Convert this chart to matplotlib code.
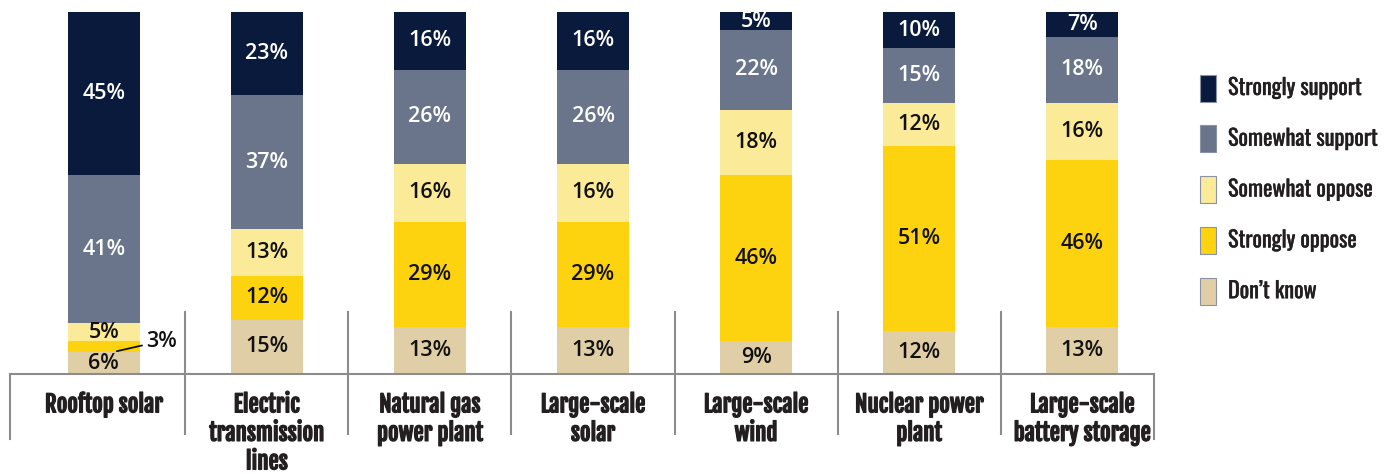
import matplotlib
matplotlib.use("Agg")
import matplotlib.pyplot as plt
from matplotlib.patches import Rectangle
import matplotlib.patheffects as pe
import numpy as np

# categories and series (bottom to top in the stack)
categories = ["Rooftop solar", "Electric\ntransmission\nlines", "Natural gas\npower plant",
              "Large-scale\nsolar", "Large-scale\nwind", "Nuclear power\nplant",
              "Large-scale\nbattery storage"]
dont_know = [6, 15, 13, 13, 9, 12, 13]
strongly_oppose = [3, 12, 29, 29, 46, 51, 46]
somewhat_oppose = [5, 13, 16, 16, 18, 12, 16]
somewhat_support = [41, 37, 26, 26, 22, 15, 18]
strongly_support = [45, 23, 16, 16, 5, 10, 7]

series = [
    ("Don\u2019t know", dont_know, "#e0cea6", "#111111"),
    ("Strongly oppose", strongly_oppose, "#fdd20e", "#111111"),
    ("Somewhat oppose", somewhat_oppose, "#fbeb98", "#111111"),
    ("Somewhat support", somewhat_support, "#6a758b", "white"),
    ("Strongly support", strongly_support, "#0a1a3d", "white"),
]

cat_font = ["Fjalla One", "DejaVu Sans"]
leg_font = ["Oswald", "DejaVu Sans"]
num_font = ["Open Sans", "DejaVu Sans"]
grey = "#8c8c8c"
ink = "#231f20"

fig = plt.figure(figsize=(13.94, 4.74), dpi=100)
ax = fig.add_axes([10 / 1394, 100 / 474, 1144 / 1394, 362 / 474])

x = np.arange(len(categories))
bottom = np.zeros(len(categories))
for name, vals, color, tcolor in series:
    vals = np.array(vals, dtype=float)
    ax.bar(x, vals, width=0.44, bottom=bottom, color=color, label=name)
    for xi, b, v in zip(x, bottom, vals):
        if v >= 5:
            ax.text(xi, b + v / 2, f"{int(v)}%", ha="center", va="center",
                    fontsize=15.5, fontweight="semibold", color=tcolor, family=num_font)
    bottom += vals

# the 3% slice on rooftop solar is too thin, label it outside
small_y = dont_know[0] + strongly_oppose[0] / 2
ax.annotate(f"{strongly_oppose[0]}%", xy=(x[0] + 0.08, small_y - 1.2),
            xytext=(x[0] + 0.26, small_y + 1.6), ha="left", va="center",
            fontsize=15.5, fontweight="semibold", color="#111111", family=num_font,
            arrowprops=dict(arrowstyle="-", color="#111111", lw=1.3,
                            shrinkA=1, shrinkB=0))

ax.set_xlim(-0.575, 6.44)
ax.set_ylim(0, 100)
ax.axis("off")

# baseline and separators
trans = ax.get_yaxis_transform(which="grid")
ax.plot([0, 1], [0, 0], color=grey, lw=1.5, clip_on=False, transform=trans)
for s in x[:-1] + 0.5:
    ax.plot([s, s], [17, -16.5], color=grey, lw=1.5, clip_on=False)
for s in [0, 1]:
    ax.plot([s, s], [0, -18], color=grey, lw=1.5, clip_on=False, transform=trans)

bold = [pe.withStroke(linewidth=0.9, foreground=ink)]
for xi, cat in zip(x, categories):
    ax.text(xi, -4.8, cat, ha="center", va="top", fontsize=16.5,
            color=ink, family=cat_font, linespacing=1.12, path_effects=bold)

# legend, top to bottom
for i, (name, vals, color, tcolor) in enumerate(reversed(series)):
    yc = (474 - 88 - i * 50.8) / 474
    fig.add_artist(Rectangle((1200 / 1394, yc - 13.5 / 474), 16 / 1394, 27 / 474,
                             transform=fig.transFigure, facecolor=color,
                             edgecolor="#8a93a3", lw=0.8))
    fig.text(1228 / 1394, yc, name, ha="left", va="center", fontsize=16,
             color=ink, family=leg_font,
             path_effects=[pe.withStroke(linewidth=0.3, foreground=ink)])

fig.savefig("out.png", dpi=100)
